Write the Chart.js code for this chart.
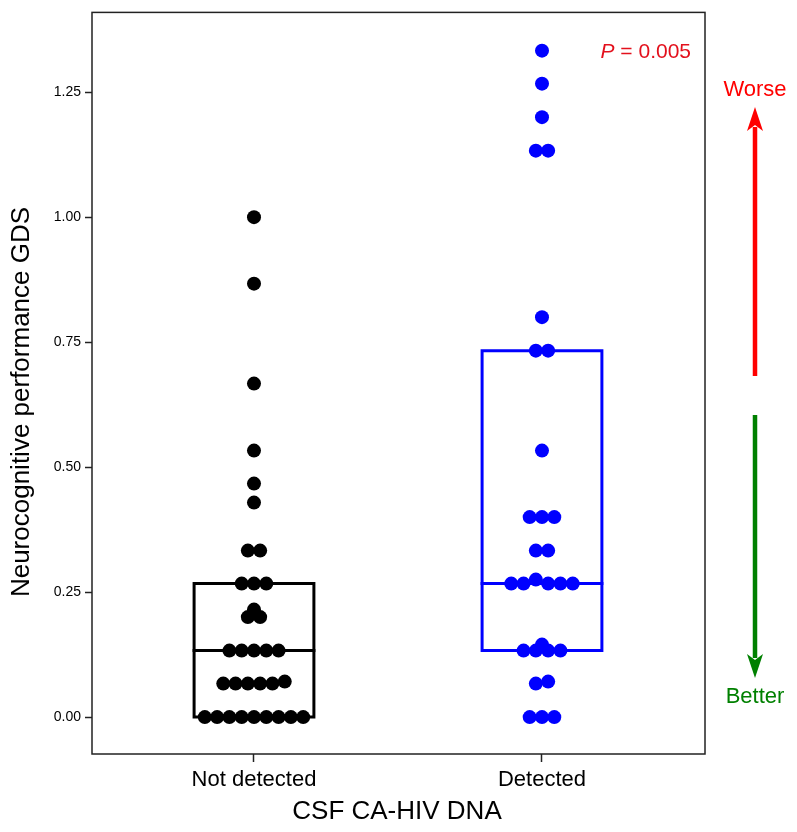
<!DOCTYPE html>
<html>
<head>
<meta charset="utf-8">
<script src="https://cdn.jsdelivr.net/npm/chart.js@4/dist/chart.umd.min.js"></script>
<style>
  html, body { margin: 0; padding: 0; background: #fff; }
  #wrap { width: 797px; height: 832px; }
</style>
</head>
<body>
<div id="wrap"><canvas id="c" width="797" height="832"></canvas></div>
<script>
// ---- data ----
const categories = ['Not detected', 'Detected'];
const notDetected = [0, 0, 0, 0, 0, 0, 0, 0, 0,
  0.067, 0.067, 0.067, 0.067, 0.067, 0.071,
  0.133, 0.133, 0.133, 0.133, 0.133,
  0.2, 0.215, 0.2,
  0.267, 0.267, 0.267,
  0.333, 0.333,
  0.429, 0.467, 0.533, 0.667, 0.867, 1.0];
const detected = [0, 0, 0,
  0.067, 0.071,
  0.133, 0.133, 0.133, 0.133, 0.145,
  0.267, 0.267, 0.275, 0.267, 0.267, 0.267,
  0.333, 0.333,
  0.4, 0.4, 0.4,
  0.533,
  0.733, 0.733,
  0.8,
  1.133, 1.133,
  1.2, 1.267, 1.333];
const boxQ1 = [0, 0.133];
const boxMedian = [0.133, 0.267];
const boxQ3 = [0.267, 0.733];
const yTicks = [0, 0.25, 0.5, 0.75, 1.0, 1.25];
const pValueText = '0.005';

// ---- layout constants ----
const DOT_SPACING = 0.0427;   // x-units between neighbouring dots in a row
const ROW_TOL = 0.01;         // values closer than this share a row
const BOX_HALF = 0.208;

function swarm(values, center) {
  const uniq = [...new Set(values)].sort((a, b) => a - b);
  const rowOf = new Map();
  let rowStart = null, rowId = -1;
  uniq.forEach(v => {
    if (rowStart === null || v - rowStart >= ROW_TOL) { rowId++; rowStart = v; }
    rowOf.set(v, rowId);
  });
  const rows = {};
  values.forEach(v => { const r = rowOf.get(v); (rows[r] = rows[r] || []).push(v); });
  const pts = [];
  Object.values(rows).forEach(row => {
    const n = row.length;
    row.forEach((v, i) => pts.push({ x: center + (i - (n - 1) / 2) * DOT_SPACING, y: v }));
  });
  return pts;
}

function boxOutline(i) {
  return [
    { x: i - BOX_HALF, y: boxQ1[i] }, { x: i + BOX_HALF, y: boxQ1[i] },
    { x: i + BOX_HALF, y: boxQ3[i] }, { x: i - BOX_HALF, y: boxQ3[i] },
    { x: i - BOX_HALF, y: boxQ1[i] }
  ];
}
function medianLine(i) {
  return [{ x: i - BOX_HALF, y: boxMedian[i] }, { x: i + BOX_HALF, y: boxMedian[i] }];
}

const colors = ['#000000', '#0000ff'];
const FONT = "'Liberation Sans', Arial, Helvetica, sans-serif";

const lineDs = (data, color) => ({
  type: 'line', data, borderColor: color, borderWidth: 3, pointRadius: 0,
  fill: false, tension: 0, borderJoinStyle: 'miter', borderCapStyle: 'square', order: 2
});

const overlay = {
  id: 'overlay',
  afterDraw(chart) {
    const ctx = chart.ctx, a = chart.chartArea;
    ctx.save();
    // frame
    ctx.strokeStyle = '#222';
    ctx.lineWidth = 1.5;
    ctx.strokeRect(a.left, a.top, a.right - a.left, a.bottom - a.top);

    // axis titles
    ctx.fillStyle = '#000';
    ctx.font = '26px ' + FONT;
    ctx.textAlign = 'center';
    ctx.textBaseline = 'middle';
    ctx.fillText('CSF CA-HIV DNA', 397, 812);
    ctx.save();
    ctx.translate(22, 402);
    ctx.rotate(-Math.PI / 2);
    ctx.fillText('Neurocognitive performance GDS', 0, 0);
    ctx.restore();

    // P value
    ctx.fillStyle = '#e3101c';
    ctx.textAlign = 'left';
    ctx.font = 'italic 21px ' + FONT;
    const pw = ctx.measureText('P').width;
    ctx.font = '21px ' + FONT;
    const rest = ' = ' + pValueText;
    const rw = ctx.measureText(rest).width;
    const endX = 691;
    const startX = endX - pw - rw;
    ctx.font = 'italic 21px ' + FONT;
    ctx.fillText('P', startX, 52);
    ctx.font = '21px ' + FONT;
    ctx.fillText(rest, startX + pw, 52);

    // arrows
    function arrow(x, y0, y1, color) {
      const dir = Math.sign(y1 - y0);
      const headLen = 24, headW = 8;
      ctx.strokeStyle = color; ctx.fillStyle = color;
      ctx.lineWidth = 4.5; ctx.lineCap = 'butt';
      ctx.beginPath(); ctx.moveTo(x, y0); ctx.lineTo(x, y1 - dir * (headLen - 4)); ctx.stroke();
      ctx.beginPath();
      ctx.moveTo(x, y1);
      ctx.lineTo(x - headW, y1 - dir * headLen);
      ctx.lineTo(x, y1 - dir * (headLen - 6));
      ctx.lineTo(x + headW, y1 - dir * headLen);
      ctx.closePath(); ctx.fill();
    }
    arrow(755, 376, 107, '#ff0000');
    arrow(755, 415, 678, '#008000');
    ctx.font = '22px ' + FONT;
    ctx.textAlign = 'center';
    ctx.fillStyle = '#ff0000';
    ctx.fillText('Worse', 755, 90);
    ctx.fillStyle = '#008000';
    ctx.fillText('Better', 755, 697);
    ctx.restore();
  }
};

new Chart(document.getElementById('c'), {
  data: {
    datasets: [
      { type: 'scatter', data: swarm(notDetected, 0), backgroundColor: colors[0], borderWidth: 0, pointRadius: 7, pointHoverRadius: 7, order: 1 },
      { type: 'scatter', data: swarm(detected, 1), backgroundColor: colors[1], borderWidth: 0, pointRadius: 7, pointHoverRadius: 7, order: 1 },
      lineDs(boxOutline(0), colors[0]),
      lineDs(medianLine(0), colors[0]),
      lineDs(boxOutline(1), colors[1]),
      lineDs(medianLine(1), colors[1])
    ]
  },
  options: {
    responsive: false,
    animation: false,
    events: [],
    layout: { padding: { left: 0, top: 10, right: 92, bottom: 0 } },
    plugins: { legend: { display: false }, tooltip: { enabled: false }, title: { display: false } },
    scales: {
      x: {
        type: 'linear', min: -0.5625, max: 1.566,
        afterBuildTicks: s => { s.ticks = categories.map((c, i) => ({ value: i })); },
        afterFit: s => { s.height = 78; },
        border: { display: false },
        grid: { drawOnChartArea: false, drawTicks: true, tickLength: 8, tickWidth: 1.5, tickColor: '#222' },
        ticks: { callback: v => categories[v], font: { family: FONT, size: 22 }, color: '#000', padding: 5, maxRotation: 0, autoSkip: false }
      },
      y: {
        type: 'linear', min: -0.0738, max: 1.4095,
        afterBuildTicks: s => { s.ticks = yTicks.map(v => ({ value: v })); },
        afterFit: s => { s.width = 92; },
        border: { display: false },
        grid: { drawOnChartArea: false, drawTicks: true, tickLength: 7, tickWidth: 1.5, tickColor: '#222' },
        ticks: { callback: v => v.toFixed(2), font: { family: FONT, size: 14 }, color: '#000', padding: 4 }
      }
    }
  },
  plugins: [overlay]
});
</script>
</body>
</html>
